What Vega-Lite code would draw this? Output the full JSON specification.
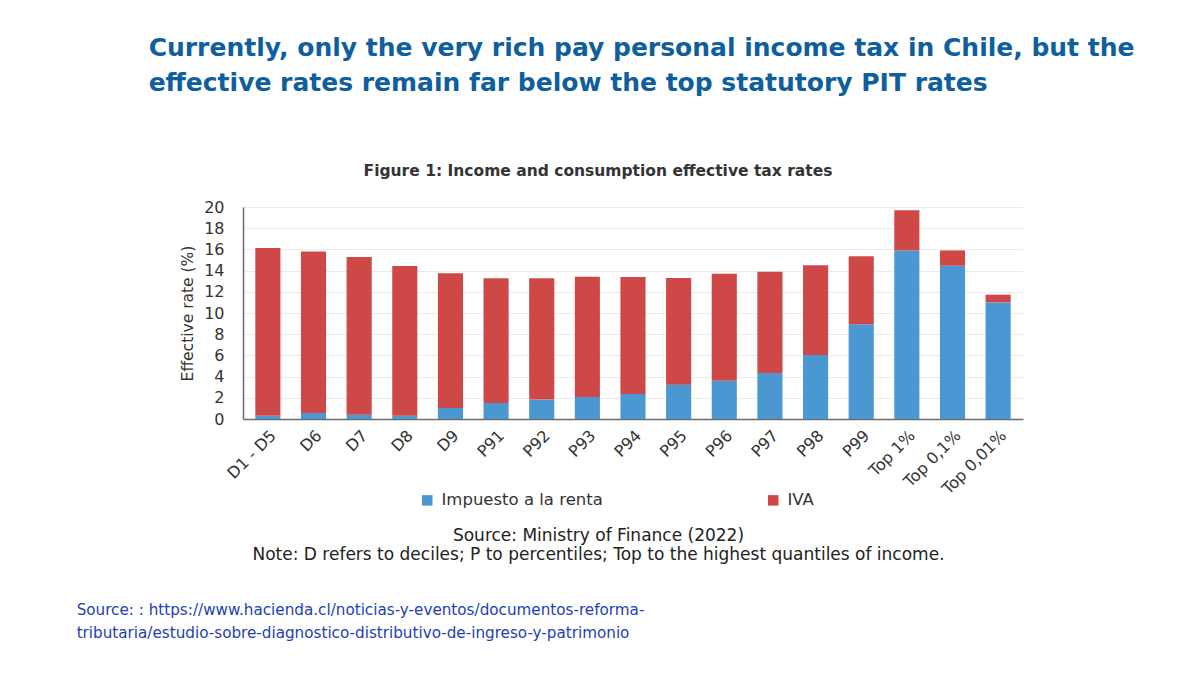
{
  "$schema": "https://vega.github.io/schema/vega-lite/v6.json",
  "background": "white",
  "padding": {"left": 76, "top": 35, "right": 10, "bottom": 20},
  "title": {
    "text": ["Source: : https://www.hacienda.cl/noticias-y-eventos/documentos-reforma-", "tributaria/estudio-sobre-diagnostico-distributivo-de-ingreso-y-patrimonio"],
    "orient": "bottom",
    "anchor": "start",
    "dx": -72,
    "font": "DejaVu Sans",
    "fontSize": 15.2,
    "fontWeight": "normal",
    "color": "#2340B4",
    "lineHeight": 23,
    "offset": 41
  },
  "vconcat": [
    {
      "title": {
        "text": ["Currently, only the very rich pay personal income tax in Chile, but the", "effective rates remain far below the top statutory PIT rates"],
        "anchor": "start",
        "dx": -32,
        "font": "DejaVu Sans",
        "fontSize": 25,
        "fontWeight": "bold",
        "color": "#0F5F9E",
        "lineHeight": 35,
        "offset": 68
      },
      "vconcat": [
        {
          "width": 780,
          "height": 212,
          "title": {
            "text": "Figure 1: Income and consumption effective tax rates",
            "font": "DejaVu Sans",
            "fontSize": 15.5,
            "fontWeight": "bold",
            "color": "#333333",
            "anchor": "middle",
            "dx": -35,
            "offset": 20
          },
          "data": {
            "values": [
              {"group": "D1 - D5", "tax": "Impuesto a la renta", "rate": 0.3},
              {"group": "D1 - D5", "tax": "IVA", "rate": 15.83},
              {"group": "D6", "tax": "Impuesto a la renta", "rate": 0.57},
              {"group": "D6", "tax": "IVA", "rate": 15.23},
              {"group": "D7", "tax": "Impuesto a la renta", "rate": 0.41},
              {"group": "D7", "tax": "IVA", "rate": 14.87},
              {"group": "D8", "tax": "Impuesto a la renta", "rate": 0.31},
              {"group": "D8", "tax": "IVA", "rate": 14.12},
              {"group": "D9", "tax": "Impuesto a la renta", "rate": 1.04},
              {"group": "D9", "tax": "IVA", "rate": 12.72},
              {"group": "P91", "tax": "Impuesto a la renta", "rate": 1.51},
              {"group": "P91", "tax": "IVA", "rate": 11.78},
              {"group": "P92", "tax": "Impuesto a la renta", "rate": 1.83},
              {"group": "P92", "tax": "IVA", "rate": 11.46},
              {"group": "P93", "tax": "Impuesto a la renta", "rate": 2.08},
              {"group": "P93", "tax": "IVA", "rate": 11.35},
              {"group": "P94", "tax": "Impuesto a la renta", "rate": 2.36},
              {"group": "P94", "tax": "IVA", "rate": 11.04},
              {"group": "P95", "tax": "Impuesto a la renta", "rate": 3.24},
              {"group": "P95", "tax": "IVA", "rate": 10.06},
              {"group": "P96", "tax": "Impuesto a la renta", "rate": 3.6},
              {"group": "P96", "tax": "IVA", "rate": 10.1},
              {"group": "P97", "tax": "Impuesto a la renta", "rate": 4.34},
              {"group": "P97", "tax": "IVA", "rate": 9.56},
              {"group": "P98", "tax": "Impuesto a la renta", "rate": 6.04},
              {"group": "P98", "tax": "IVA", "rate": 8.46},
              {"group": "P99", "tax": "Impuesto a la renta", "rate": 8.93},
              {"group": "P99", "tax": "IVA", "rate": 6.42},
              {"group": "Top 1%", "tax": "Impuesto a la renta", "rate": 15.9},
              {"group": "Top 1%", "tax": "IVA", "rate": 3.8},
              {"group": "Top 0,1%", "tax": "Impuesto a la renta", "rate": 14.46},
              {"group": "Top 0,1%", "tax": "IVA", "rate": 1.44},
              {"group": "Top 0,01%", "tax": "Impuesto a la renta", "rate": 11.0},
              {"group": "Top 0,01%", "tax": "IVA", "rate": 0.73}
            ]
          },
          "transform": [
            {"calculate": "datum.tax == 'IVA' ? 2 : 1", "as": "stackorder"}
          ],
          "mark": {"type": "bar"},
          "encoding": {
            "x": {
              "field": "group",
              "type": "nominal",
              "sort": null,
              "scale": {"paddingInner": 0.45, "paddingOuter": 0.27},
              "axis": {
                "title": ["Source: Ministry of Finance (2022)", "Note: D refers to deciles; P to percentiles; Top to the highest quantiles of income."],
                "titleAnchor": "middle",
                "titleAlign": "center",
                "titleX": 355,
                "titleY": 121,
                "titleBaseline": "alphabetic",
                "titleFont": "DejaVu Sans",
                "titleFontSize": 17,
                "titleFontWeight": "normal",
                "titleColor": "#222222",
                "titleLineHeight": 19,
                "labelAngle": -45,
                "labelFont": "DejaVu Sans",
                "labelFontSize": 16,
                "labelColor": "#333333",
                "labelPadding": 8,
                "ticks": false,
                "domainColor": "#6b6b6b",
                "domainWidth": 1.5
              }
            },
            "y": {
              "field": "rate",
              "type": "quantitative",
              "stack": "zero",
              "scale": {"domain": [0, 20], "nice": false},
              "axis": {
                "title": "Effective rate (%)",
                "titleFont": "DejaVu Sans",
                "titleFontSize": 15.5,
                "titleFontWeight": "normal",
                "titleColor": "#333333",
                "titlePadding": 8,
                "values": [0, 2, 4, 6, 8, 10, 12, 14, 16, 18, 20],
                "labelFont": "DejaVu Sans",
                "labelFontSize": 16,
                "labelColor": "#333333",
                "labelPadding": 19,
                "ticks": false,
                "grid": true,
                "gridColor": "#ebebeb",
                "domainColor": "#6b6b6b",
                "domainWidth": 1.5
              }
            },
            "color": {
              "field": "tax",
              "type": "nominal",
              "sort": ["Impuesto a la renta", "IVA"],
              "scale": {"domain": ["Impuesto a la renta", "IVA"], "range": ["#4a97d2", "#cf4848"]},
              "legend": {
                "title": null,
                "orient": "none",
                "legendX": 176,
                "legendY": 285,
                "direction": "horizontal",
                "symbolType": "square",
                "symbolSize": 110,
                "symbolOpacity": 1,
                "labelFont": "DejaVu Sans",
                "labelFontSize": 16.5,
                "labelLimit": 400,
                "labelColor": "#333333",
                "labelOffset": 6,
                "columnPadding": 162
              }
            },
            "order": {"field": "stackorder", "type": "quantitative"}
          }
        }
      ]
    }
  ],
  "config": {
    "view": {"stroke": null}
  }
}
